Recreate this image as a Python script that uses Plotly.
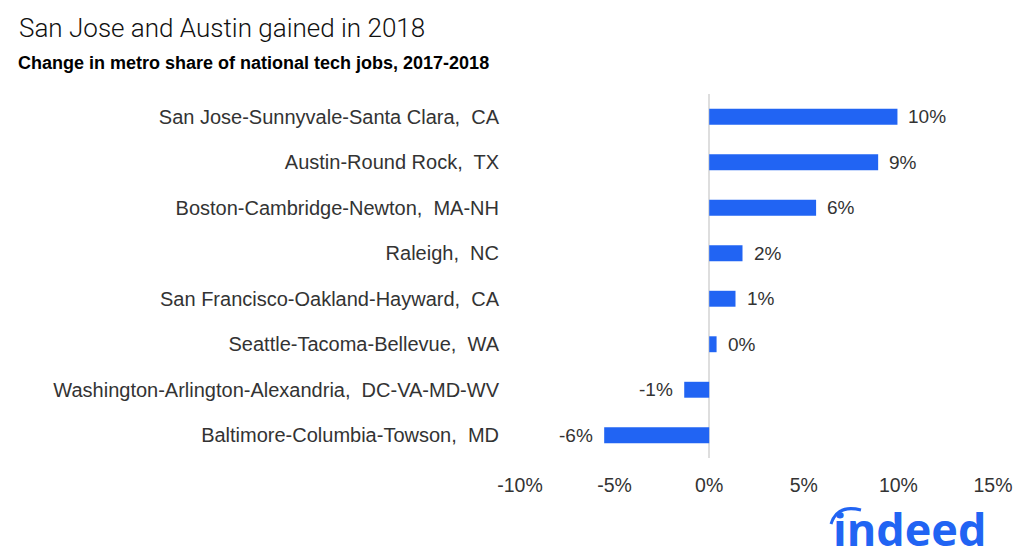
import plotly.graph_objects as go

NB = "\u00a0"
metros = [
    "San Jose-Sunnyvale-Santa Clara," + NB + " CA",
    "Austin-Round Rock," + NB + " TX",
    "Boston-Cambridge-Newton," + NB + " MA-NH",
    "Raleigh," + NB + " NC",
    "San Francisco-Oakland-Hayward," + NB + " CA",
    "Seattle-Tacoma-Bellevue," + NB + " WA",
    "Washington-Arlington-Alexandria," + NB + " DC-VA-MD-WV",
    "Baltimore-Columbia-Towson," + NB + " MD",
]
change = [0.0995, 0.0893, 0.0565, 0.0176, 0.0139, 0.0039, -0.0132, -0.0555]
bar_labels = ["10%", "9%", "6%", "2%", "1%", "0%", "-1%", "-6%"]
x_ticks = [-0.10, -0.05, 0.0, 0.05, 0.10, 0.15]
x_tick_labels = ["-10%", "-5%", "0%", "5%", "10%", "15%"]

BLUE = "#2164f3"
TXT = "#333333"

L, R, T, B = 520, 993, 94, 458
W, H = 1024, 558
pw, ph = R - L, B - T

def px(x):
    return (x - L) / pw

def py(y):
    return (B - y) / ph

fig = go.Figure(go.Bar(
    x=change, y=metros, orientation="h",
    marker=dict(color=BLUE, line=dict(width=0)),
    width=0.35, hoverinfo="skip",
))

annotations = []
for m, v, lab in zip(metros, change, bar_labels):
    annotations.append(dict(
        x=v, y=m, xref="x", yref="y",
        text=lab,
        showarrow=False,
        xanchor="left" if v >= 0 else "right",
        xshift=9 if v >= 0 else -9,
        font=dict(family="Liberation Sans", size=19, color=TXT),
    ))

annotations += [
    dict(x=px(17), y=py(28), xref="paper", yref="paper",
         text="San Jose and Austin gained in 2018", showarrow=False,
         xanchor="left", yanchor="middle",
         font=dict(family="Roboto", size=26, color="#111111", weight=300)),
    dict(x=px(16), y=py(63), xref="paper", yref="paper",
         text="<b>Change in metro share of national tech jobs, 2017-2018</b>",
         showarrow=False, xanchor="left", yanchor="middle",
         font=dict(family="Liberation Sans", size=18, color="#000000")),
    dict(x=px(988), y=py(528), xref="paper", yref="paper",
         text="<b>indeed</b>", showarrow=False,
         xanchor="right", yanchor="middle",
         font=dict(family="Open Sans", size=45, color=BLUE)),
]

fig.update_layout(
    width=W, height=H,
    margin=dict(l=L, r=W - R, t=T, b=H - B, pad=0),
    paper_bgcolor="white", plot_bgcolor="white",
    showlegend=False,
    annotations=annotations,
    shapes=[dict(type="path", xref="paper", yref="paper",
                 path=f"M {px(831)},{py(524)} Q {px(837)},{py(504)} {px(861)},{py(510)}",
                 line=dict(color=BLUE, width=3))],
    xaxis=dict(
        range=[-0.10, 0.15], tickvals=x_ticks, ticktext=x_tick_labels,
        showgrid=False, zeroline=True, zerolinecolor="#dedede", zerolinewidth=1.5,
        showline=False, ticks="", ticklabelstandoff=13,
        tickfont=dict(family="Liberation Sans", size=19.5, color=TXT),
        fixedrange=True,
    ),
    yaxis=dict(
        categoryorder="array", categoryarray=metros[::-1],
        showgrid=False, zeroline=False, showline=False, ticks="",
        ticklabelstandoff=20,
        tickfont=dict(family="Liberation Sans", size=20, color=TXT),
        fixedrange=True,
    ),
)

fig.write_html("out.html", config={"displayModeBar": False},
               post_script="document.body.style.margin='0px';")
